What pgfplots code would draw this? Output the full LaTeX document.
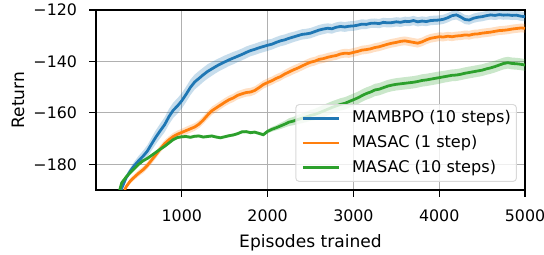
\documentclass[border=0pt]{standalone}
\usepackage{pgfplots}
\pgfplotsset{compat=1.18}
\usepackage{pgfplotstable}
\usepgfplotslibrary{fillbetween}
\usepackage{fontspec}
\setmainfont{DejaVu Sans}
\definecolor{c0}{HTML}{1F77B4}
\definecolor{c1}{HTML}{FF7F0E}
\definecolor{c2}{HTML}{2CA02C}
\definecolor{gridc}{HTML}{B0B0B0}

\pgfplotstableread{
x y e
250 -194.0 0.8
300 -189.3 0.9
350 -185.3 1.1
400 -182.6 1.3
450 -180.4 1.6
500 -178.5 1.9
550 -176.8 2.1
600 -174.8 2.3
650 -172.0 2.5
700 -169.3 2.7
750 -166.9 2.8
800 -164.6 2.9
850 -161.5 3.0
900 -159.0 3.0
950 -157.3 3.0
1000 -155.3 3.0
1050 -152.8 3.0
1100 -150.1 3.0
1150 -148.0 2.9
1200 -146.6 2.9
1250 -145.2 2.8
1300 -143.9 2.8
1350 -142.9 2.7
1400 -141.9 2.6
1450 -141.0 2.5
1500 -140.2 2.5
1550 -139.4 2.4
1600 -138.7 2.4
1650 -138.0 2.3
1700 -137.3 2.3
1750 -136.5 2.3
1800 -135.8 2.2
1850 -135.3 2.2
1900 -134.7 2.2
1950 -134.2 2.2
2000 -133.7 2.2
2050 -133.3 2.1
2100 -132.6 2.1
2150 -132.0 2.1
2200 -131.6 2.1
2250 -131.0 2.1
2300 -130.5 2.0
2350 -130.0 2.0
2400 -129.5 2.0
2450 -129.3 2.0
2500 -129.0 2.0
2550 -128.4 2.0
2600 -127.8 2.0
2650 -127.4 2.0
2700 -127.1 1.9
2750 -127.3 1.9
2800 -126.7 1.9
2850 -126.4 1.9
2900 -126.6 1.9
2950 -126.3 1.9
3000 -126.2 1.9
3050 -125.9 1.9
3100 -125.5 1.9
3150 -125.6 1.8
3200 -125.2 1.8
3250 -125.1 1.8
3300 -125.3 1.8
3350 -124.8 1.8
3400 -125.0 1.8
3450 -124.9 1.8
3500 -124.6 1.8
3550 -124.8 1.8
3600 -124.4 1.8
3650 -124.5 1.8
3700 -124.1 1.8
3750 -124.6 1.8
3800 -124.3 1.8
3850 -124.5 1.8
3900 -124.1 1.8
3950 -124.0 1.8
4000 -123.9 1.8
4050 -123.6 1.8
4100 -123.0 1.8
4150 -122.2 1.8
4200 -121.9 1.8
4250 -122.7 1.8
4300 -123.7 1.8
4350 -123.9 1.8
4400 -123.2 1.8
4450 -122.8 1.8
4500 -122.6 1.8
4550 -122.2 1.8
4600 -121.9 1.8
4650 -122.1 1.8
4700 -121.8 1.8
4750 -122.0 1.8
4800 -121.9 1.8
4850 -122.1 1.8
4900 -122.0 1.8
4950 -122.4 1.8
5000 -122.6 1.8
}\mambpo

\pgfplotstableread{
x y e
300 -193.0 0.8
350 -188.8 0.9
400 -186.5 1.0
450 -184.9 1.1
500 -183.4 1.2
550 -182.1 1.3
600 -180.4 1.3
650 -178.3 1.4
700 -176.2 1.4
750 -174.0 1.4
800 -172.0 1.4
850 -170.5 1.4
900 -169.2 1.4
950 -168.3 1.4
1000 -167.6 1.4
1050 -166.9 1.5
1100 -166.2 1.5
1150 -165.5 1.5
1200 -164.4 1.5
1250 -162.8 1.5
1300 -160.9 1.6
1350 -159.2 1.6
1400 -158.1 1.6
1450 -157.0 1.6
1500 -155.9 1.6
1550 -154.9 1.6
1600 -154.2 1.6
1650 -153.2 1.6
1700 -152.6 1.6
1750 -152.1 1.6
1800 -151.9 1.6
1850 -151.3 1.6
1900 -150.2 1.6
1950 -149.0 1.6
2000 -148.2 1.6
2050 -147.5 1.6
2100 -146.6 1.6
2150 -145.9 1.6
2200 -144.9 1.6
2250 -144.1 1.7
2300 -143.3 1.7
2350 -142.6 1.7
2400 -141.8 1.7
2450 -141.0 1.7
2500 -140.3 1.7
2550 -139.9 1.7
2600 -139.2 1.7
2650 -138.9 1.7
2700 -138.4 1.7
2750 -138.0 1.7
2800 -137.7 1.7
2850 -137.1 1.7
2900 -136.8 1.7
2950 -136.9 1.7
3000 -136.5 1.7
3050 -136.1 1.7
3100 -135.6 1.7
3150 -135.4 1.7
3200 -135.1 1.7
3250 -134.6 1.7
3300 -134.3 1.7
3350 -133.8 1.7
3400 -133.3 1.7
3450 -132.9 1.7
3500 -132.6 1.7
3550 -132.2 1.7
3600 -132.0 1.7
3650 -132.3 1.7
3700 -132.6 1.7
3750 -132.9 1.7
3800 -132.4 1.7
3850 -131.6 1.7
3900 -131.0 1.7
3950 -130.7 1.7
4000 -130.4 1.7
4050 -130.5 1.7
4100 -130.2 1.7
4150 -130.4 1.7
4200 -130.1 1.7
4250 -130.0 1.7
4300 -129.7 1.7
4350 -129.8 1.7
4400 -129.4 1.7
4450 -129.3 1.7
4500 -129.0 1.7
4550 -128.8 1.7
4600 -128.6 1.7
4650 -128.3 1.7
4700 -128.0 1.7
4750 -127.9 1.7
4800 -127.7 1.7
4850 -127.4 1.7
4900 -127.2 1.7
4950 -127.0 1.7
5000 -127.1 1.7
}\masacone

\pgfplotstableread{
x y e
250 -195.0 0.6
280 -189.5 0.6
300 -187.2 0.6
350 -185.0 0.6
400 -183.2 0.6
450 -181.6 0.6
500 -179.9 0.6
550 -178.6 0.6
600 -177.7 0.6
650 -176.5 0.6
700 -175.3 0.6
750 -174.1 0.6
800 -173.0 0.6
850 -171.7 0.6
900 -170.4 0.6
950 -169.6 0.6
1000 -169.3 0.6
1050 -169.2 0.6
1100 -169.5 0.6
1150 -169.1 0.6
1200 -169.0 0.6
1250 -169.4 0.6
1300 -169.2 0.6
1350 -169.0 0.6
1400 -169.4 0.6
1450 -169.7 0.6
1500 -169.3 0.6
1550 -168.9 0.6
1600 -168.6 0.6
1650 -168.1 0.6
1700 -167.4 0.6
1750 -167.3 0.6
1800 -167.7 0.6
1850 -167.5 0.6
1900 -168.0 0.6
1950 -168.5 0.7
2000 -167.2 0.8
2050 -166.4 0.9
2100 -165.8 1.0
2150 -165.1 1.2
2200 -164.4 1.3
2250 -163.6 1.5
2300 -163.2 1.6
2350 -162.6 1.8
2400 -162.1 1.9
2450 -161.6 2.0
2500 -161.0 2.1
2550 -160.6 2.2
2600 -160.0 2.3
2650 -159.3 2.4
2700 -158.6 2.4
2750 -157.9 2.4
2800 -157.3 2.4
2850 -156.7 2.4
2900 -156.3 2.4
2950 -155.6 2.4
3000 -154.9 2.4
3050 -154.2 2.4
3100 -153.3 2.4
3150 -152.5 2.4
3200 -151.9 2.4
3250 -151.1 2.4
3300 -150.8 2.4
3350 -150.2 2.4
3400 -149.6 2.4
3450 -149.2 2.4
3500 -148.9 2.4
3550 -148.7 2.4
3600 -148.5 2.4
3650 -148.3 2.4
3700 -148.1 2.4
3750 -147.8 2.4
3800 -147.4 2.4
3850 -147.2 2.4
3900 -146.9 2.4
3950 -146.6 2.4
4000 -146.3 2.4
4050 -146.0 2.3
4100 -145.7 2.3
4150 -145.4 2.3
4200 -145.3 2.3
4250 -145.0 2.3
4300 -144.6 2.3
4350 -144.3 2.3
4400 -144.0 2.3
4450 -143.7 2.3
4500 -143.4 2.3
4550 -142.9 2.3
4600 -142.5 2.3
4650 -142.0 2.3
4700 -141.4 2.3
4750 -140.8 2.3
4800 -140.5 2.3
4850 -140.8 2.3
4900 -140.9 2.3
4950 -141.1 2.3
5000 -141.4 2.3
}\masacten

\begin{document}
\begin{tikzpicture}
\begin{axis}[
  name=ax,
  scale only axis,
  width=308.88pt, height=129.6pt,
  xmin=0, xmax=5000, ymin=-190, ymax=-120,
  xtick={1000,2000,3000,4000,5000},
  xticklabels={1000,2000,3000,4000,5000},
  ytick={-180,-160,-140,-120},
  yticklabels={−180,−160,−140,−120},
  scaled x ticks=false,
  tick pos=left,
  tick align=outside,
  major tick length=5pt,
  every tick/.style={black, line width=0.9pt},
  axis line style={black, line width=0.9pt},
  grid=major,
  major grid style={gridc, line width=0.8pt},
  /pgf/number format/assume math mode=true,
  tick label style={font=\fontsize{11.4}{13}\selectfont, inner sep=0pt},
  xticklabel style={anchor=north, yshift=-9pt},
  yticklabel style={anchor=east, xshift=-8.5pt},
  xlabel={Episodes trained},
  ylabel={Return},
  label style={font=\fontsize{12.3}{14}\selectfont, inner sep=0pt},
  xlabel style={at={([yshift=-41.5pt]axis description cs:0.5,0)}, anchor=base},
  ylabel style={at={([xshift=-51.8pt]axis description cs:0,0.5)}, anchor=base, rotate=0},
  legend cell align=left,
  legend image code/.code={\draw[#1] (0pt,0pt) -- (25.9pt,0pt);},
  legend style={
    at={(rel axis cs:1,0)}, anchor=south east, xshift=-5.8pt, yshift=5.8pt,
    fill=white, fill opacity=0.8, text opacity=1, draw=black!15, line width=0.7pt,
    rounded corners=2.5pt,
    inner xsep=4pt, inner ysep=1pt,
    column sep=8.6pt,
    font=\fontsize{11.6}{13}\selectfont,
    nodes={inner xsep=0pt, inner ysep=3.2pt, text height=8.8pt, text depth=2.6pt},
  },
]
% MAMBPO
\addplot[name path=bu, draw=none, forget plot] table[x=x, y expr=\thisrow{y}+\thisrow{e}]{\mambpo};
\addplot[name path=bl, draw=none, forget plot] table[x=x, y expr=\thisrow{y}-\thisrow{e}]{\mambpo};
\addplot[c0, fill opacity=0.25, draw=none, forget plot] fill between[of=bu and bl];
\addplot[c0, line width=2pt] table[x=x, y=y]{\mambpo};
\addlegendentry{MAMBPO (10 steps)}
% MASAC 1 step
\addplot[name path=ou, draw=none, forget plot] table[x=x, y expr=\thisrow{y}+\thisrow{e}]{\masacone};
\addplot[name path=ol, draw=none, forget plot] table[x=x, y expr=\thisrow{y}-\thisrow{e}]{\masacone};
\addplot[c1, fill opacity=0.25, draw=none, forget plot] fill between[of=ou and ol];
\addplot[c1, line width=2pt] table[x=x, y=y]{\masacone};
\addlegendentry{MASAC (1 step)}
% MASAC 10 steps
\addplot[name path=gu, draw=none, forget plot] table[x=x, y expr=\thisrow{y}+\thisrow{e}]{\masacten};
\addplot[name path=gl, draw=none, forget plot] table[x=x, y expr=\thisrow{y}-\thisrow{e}]{\masacten};
\addplot[c2, fill opacity=0.25, draw=none, forget plot] fill between[of=gu and gl];
\addplot[c2, line width=2pt] table[x=x, y=y]{\masacten};
\addlegendentry{MASAC (10 steps)}
\end{axis}
\pgfresetboundingbox
\path ([shift={(-69.12pt,-46.8pt)}]ax.south west) rectangle ([shift={(13.68pt,7.2pt)}]ax.north east);
\end{tikzpicture}
\end{document}
